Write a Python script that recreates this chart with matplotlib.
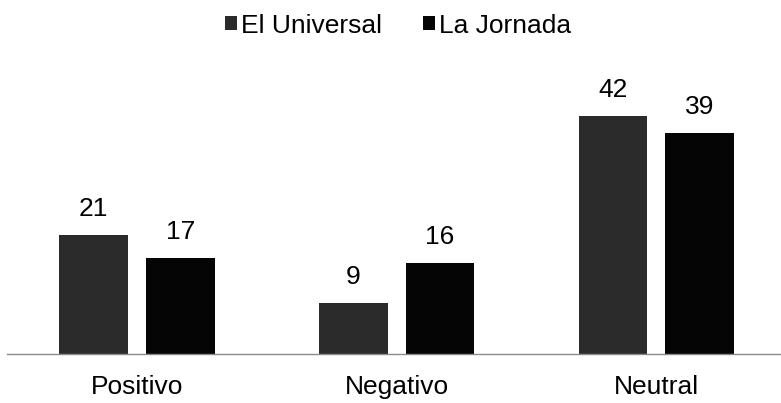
import numpy as np
import matplotlib.pyplot as plt

plt.rcParams['font.family'] = ['Liberation Sans', 'DejaVu Sans']

categorias = ['Positivo', 'Negativo', 'Neutral']
series = ['El Universal', 'La Jornada']
el_universal = [21, 9, 42]
la_jornada = [17, 16, 39]
colores = ['#2b2b2b', '#050505']

fig = plt.figure(figsize=(7.81, 4.03), dpi=100)
ax = fig.add_axes([7 / 781, 49 / 403, 774 / 781, 283.5 / 403])

x = np.arange(len(categorias))
ancho = 0.265
desp = 0.167
b1 = ax.bar(x - desp, el_universal, ancho, color=colores[0], label=series[0])
b2 = ax.bar(x + desp, la_jornada, ancho, color=colores[1], label=series[1])

for barras in (b1, b2):
    for b in barras:
        ax.annotate(str(int(b.get_height())),
                    (b.get_x() + b.get_width() / 2, b.get_height()),
                    xytext=(0, 10), textcoords='offset points',
                    ha='center', va='bottom', fontsize=19)

ax.set_xlim(-0.5, 2.48)
ax.set_ylim(0, 50)
ax.set_xticks(x)
ax.set_xticklabels(categorias, fontsize=19)
ax.tick_params(axis='x', length=0, pad=15)
ax.set_yticks([])
for s in ['top', 'right', 'left']:
    ax.spines[s].set_visible(False)
ax.spines['bottom'].set_color('#8a8a8a')
ax.spines['bottom'].set_linewidth(1)

fig.legend(loc='upper center', bbox_to_anchor=(0.51, 1.025), ncol=2, frameon=False,
           fontsize=19, handlelength=0.45, handleheight=0.45, handletextpad=0.15,
           columnspacing=1.55)

fig.savefig('out.png', dpi=100)
